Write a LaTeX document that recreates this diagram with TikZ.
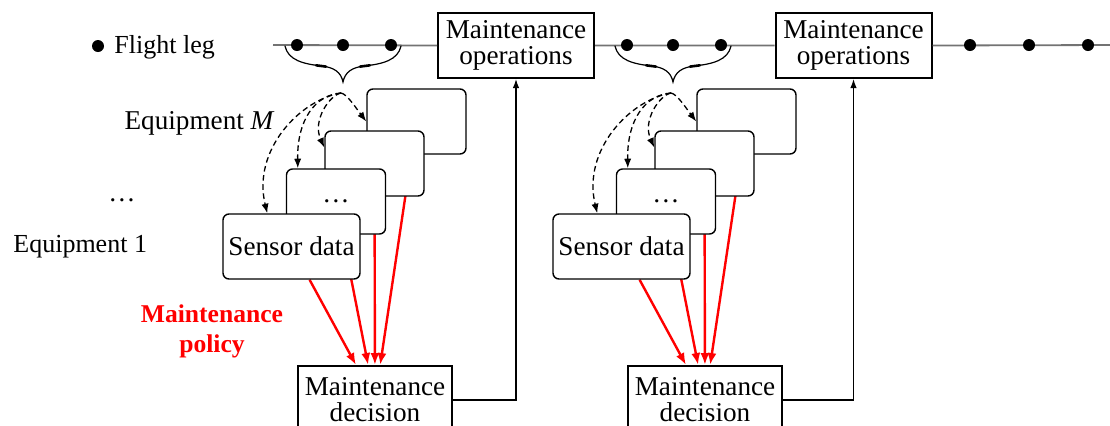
\documentclass[tikz,border=0pt]{standalone}
\usepackage{fontspec}
\setmainfont{Liberation Serif}
\usetikzlibrary{arrows.meta,calc}
\pgfdeclarelayer{background}
\pgfsetlayers{background,main}
\begin{document}
\begin{tikzpicture}[x=0.5pt,y=-0.5pt,
  every node/.style={font=\fontsize{13.6}{13}\selectfont},
  eqbox/.style={draw, line width=0.7pt, rounded corners=3pt, fill=white, minimum width=49.5pt, minimum height=32.5pt, inner sep=0pt},
  sqbox/.style={draw, line width=1pt, fill=white, align=center, inner sep=0pt},
  tline/.style={draw=black!55, line width=0.9pt},
  legdot/.style={circle, fill=black, inner sep=0pt, minimum size=6pt},
  redarrow/.style={draw=red, line width=1.2pt, -{Latex[length=6pt,width=4.5pt]}},
  dasharrow/.style={draw, dash pattern=on 2.8pt off 1.8pt, line width=0.65pt, -{Latex[length=4.8pt,width=3.6pt]}},
  feed/.style={draw, line width=0.6pt, -{Latex[length=4.5pt,width=3.2pt]}},
  ebrace/.style={draw, line width=0.6pt, line cap=round},
  ebraceth/.style={draw, line width=1.3pt, line cap=round},
  lbl/.style={inner sep=0pt},
]
\clip (0,0) rectangle (1110,425);
\useasboundingbox (0,0) rectangle (1110,425);

% legend
\node[legdot] (legdot) at (98,46) {};
\node[lbl, anchor=base west, font=\fontsize{13}{13}\selectfont] (leg) at (114,53) {Flight leg};

% timeline
\node[sqbox, minimum width=78pt, minimum height=32.5pt] (ops-1) at (516,45.5) {Maintenance\\operations};
\node[sqbox, minimum width=78pt, minimum height=32.5pt] (ops-2) at (853.5,45.5) {Maintenance\\operations};
\coordinate (tl0) at (273,45);
\coordinate (tl1) at (1112,45);
\draw[tline] (tl0) -- (ops-1.west) (ops-1.east) -- (ops-2.west) (ops-2.east) -- (tl1);
\foreach \x [count=\k] in {970,1029,1088} \node[legdot] (d3-\k) at (\x,45) {};

% labels
\node[lbl, anchor=base east] (eqM) at (275,129) {Equipment \textit{M}};
\node[lbl] (edots) at (122,200) {\dots};
\node[lbl, anchor=base west, font=\fontsize{13}{13}\selectfont] (eq1) at (13,252) {Equipment 1};
\node[lbl, font=\fontsize{12.8}{15}\selectfont\bfseries, text=red, align=center] (pol) at (212,331) {Maintenance\\policy};

% two stacks
\foreach \i/\dx in {1/0,2/330}{
\begin{scope}[shift={(\dx,0)}]
  \foreach \x [count=\k] in {297,343,391} \node[legdot] (d\i-\k) at (\x,45) {};
  \draw[ebrace] (285,46) .. controls (288,60) and (303,64) .. (322,66)
     .. controls (334,67.5) and (341,72) .. (343,82)
     .. controls (345,72) and (352,67.5) .. (364,66)
     .. controls (383,64) and (398,60) .. (401,46);
  \draw[ebraceth] (316,65.3) -- (326,66.6);
  \draw[ebraceth] (360,66.6) -- (370,65.3);
  \coordinate (s-\i) at (341,93);
  \node[eqbox] (b4-\i) at (416.5,121.5) {};
  \node[eqbox] (b3-\i) at (374.5,163.5) {};
  \node[eqbox] (b2-\i) at (336,201.5) {\dots};
  \node[eqbox, minimum width=68.5pt] (b1-\i) at (291.5,246.5) {Sensor data};
  \node[sqbox, minimum width=77pt, minimum height=34pt] (dec-\i) at (375,400) {Maintenance\\decision};
  \begin{pgfonlayer}{background}
    \foreach \b in {1,...,4} \draw[redarrow] (b\b-\i) -- (dec-\i);
  \end{pgfonlayer}
  \draw[dasharrow] (s-\i) .. controls (347,94) and (356,108) .. (b4-\i.west);
  \draw[dasharrow] (s-\i) .. controls (330,95) and (312,120) .. ([yshift=8pt]b3-\i.west);
  \draw[dasharrow] (s-\i) .. controls (315,95) and (297,120) .. ([xshift=6pt]b2-\i.north west);
  \draw[dasharrow] (s-\i) .. controls (300,100) and (252,150) .. ([xshift=22.5pt]b1-\i.north west);
  \draw[feed] (dec-\i.east) -| (ops-\i.south);
\end{scope}}
\end{tikzpicture}
\end{document}
